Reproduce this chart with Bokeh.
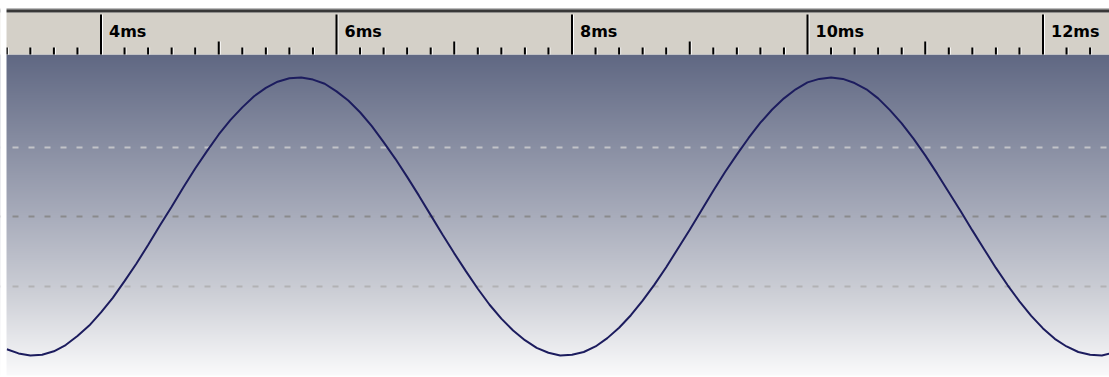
import numpy as np
from bokeh.plotting import figure
from bokeh.models import Range1d
from bokeh.embed import file_html
from bokeh.resources import INLINE
from bokeh.core.properties import value

# ---------------- data ----------------
time_ms = [round(3.2 + 0.1 * i, 1) for i in range(95)]  # sampling grid 3.2 .. 12.6 ms
signal = [
    -1.91, -1.97, -2.00, -1.99, -1.94, -1.85, -1.72, -1.57, -1.38, -1.17,
    -0.93, -0.68, -0.41, -0.13, 0.14, 0.42, 0.69, 0.94, 1.18, 1.39,
    1.57, 1.73, 1.85, 1.94, 1.99, 2.00, 1.97, 1.91, 1.80, 1.67,
    1.50, 1.30, 1.07, 0.83, 0.57, 0.30, 0.02, -0.26, -0.53, -0.79,
    -1.04, -1.27, -1.47, -1.64, -1.78, -1.89, -1.96, -2.00, -1.99, -1.95,
    -1.87, -1.75, -1.60, -1.42, -1.21, -0.98, -0.73, -0.46, -0.19, 0.09,
    0.37, 0.64, 0.89, 1.13, 1.35, 1.54, 1.70, 1.83, 1.93, 1.98,
    2.00, 1.98, 1.92, 1.83, 1.70, 1.53, 1.34, 1.12, 0.88, 0.62,
    0.35, 0.08, -0.20, -0.47, -0.74, -0.99, -1.22, -1.43, -1.61, -1.76,
    -1.87, -1.95, -1.99, -2.00, -1.96,
]
major_ticks = [4, 6, 8, 10, 12]
tick_labels = ["4ms", "6ms", "8ms", "10ms", "12ms"]
grid_levels = [1, 0, -1]
grid_colors = ["#c2c3c8", "#8a8a8c", "#b2b2b4"]

# ---------------- layout (pixels from the figure's top-left) ----------------
W, H = 1109, 377
PX_PER_MS = 117.75
PX_PER_UNIT = 69.5
X0 = 4 - 100.5 / PX_PER_MS
X1 = X0 + W / PX_PER_MS
DX = 1.0 / PX_PER_MS        # one pixel in ms
ZERO_PX = 216.0             # zero line
RULER_TOP = 12.0
RULER_BOT = 54.0
PLOT_BOT = 375.0
LEFT_PAD = 6.0

def ypx(px):                 # pixel row -> signal units
    return (ZERO_PX - px) / PX_PER_UNIT

p = figure(width=W, height=H, x_range=Range1d(X0, X1), y_range=Range1d(ypx(H), ypx(0)),
           output_backend="svg", toolbar_location=None,
           x_axis_location=None, y_axis_location=None,
           min_border=0, outline_line_color=None,
           background_fill_color="white", border_fill_color="white")
p.xgrid.visible = False
p.ygrid.visible = False
p.extra_y_ranges = {"px": Range1d(H, 0)}

# ---------------- gradient plot background ----------------
n_rows = int(PLOT_BOT - RULER_BOT)
stops_f = [0.0, 0.5, 0.75, 1.0]                      # fraction from top
stops_c = np.array([[96, 104, 131], [168, 172, 187], [206, 208, 215], [250, 250, 251]])
f = np.linspace(1.0, 0.0, n_rows)                    # row 0 = bottom
rgb = np.stack([np.interp(f, stops_f, stops_c[:, k]) for k in range(3)], axis=1).astype(np.uint32)
img = (255 << 24) | (rgb[:, 2] << 16) | (rgb[:, 1] << 8) | rgb[:, 0]
img = img.reshape(n_rows, 1).astype(np.uint32)
p.image_rgba(image=[img], x=X0, y=ypx(PLOT_BOT), dw=X1 - X0, dh=ypx(RULER_BOT) - ypx(PLOT_BOT))

# ---------------- grid lines ----------------
p.hspan(y=grid_levels, line_color=grid_colors, line_width=2, line_dash="6 10", line_dash_offset=4)

# ---------------- signal ----------------
p.line(time_ms, signal, line_color="#1c1c5e", line_width=2)

# ---------------- ruler ----------------
p.quad(left=[X0], right=[X1], top=[RULER_TOP], bottom=[RULER_BOT], fill_color="#d4d0c8",
       line_color=None, y_range_name="px")
p.quad(left=[X0], right=[X1], top=[8], bottom=[9], fill_color="#7a7a7a",
       line_color=None, y_range_name="px")
p.quad(left=[X0], right=[X1], top=[9], bottom=[RULER_TOP], fill_color="#383838",
       line_color=None, y_range_name="px")

all_ticks = np.round(np.arange(3.2, 12.6 + 1e-9, 0.2), 1)
is_int = np.abs(all_ticks - np.round(all_ticks)) < 1e-6
mid_ticks = [t for t, i in zip(all_ticks, is_int) if i and int(round(t)) % 2 == 1]
minor_ticks = [t for t, i in zip(all_ticks, is_int) if not i]

def ticks(xs, top, color, width, shift):
    xs = np.asarray(xs, dtype=float) + shift
    p.segment(x0=xs, y0=[top] * len(xs), x1=xs, y1=[RULER_BOT] * len(xs),
              line_color=color, line_width=width, y_range_name="px")

ticks(major_ticks, 14, "white", 1, 1.5 * DX)
ticks(major_ticks, 14, "black", 2, 0)
ticks(mid_ticks, 41, "white", 1, 1.5 * DX)
ticks(mid_ticks, 41, "black", 2, 0)
ticks(minor_ticks, 47, "white", 1, 1.5 * DX)
ticks(minor_ticks, 47, "black", 2, 0)

p.text(x=major_ticks, y=[30.5] * len(major_ticks), text=tick_labels, y_range_name="px",
       x_offset=8, text_align="left", text_baseline="middle",
       text_font=value("DejaVu Sans"), text_font_size="16px", text_font_style="bold",
       text_color="black")

# white left strip, as in the reference
p.quad(left=[X0], right=[X0 + LEFT_PAD * DX], top=[0], bottom=[H], fill_color="white",
       line_color=None, y_range_name="px")

open("out.html", "w").write(file_html(p, INLINE))
